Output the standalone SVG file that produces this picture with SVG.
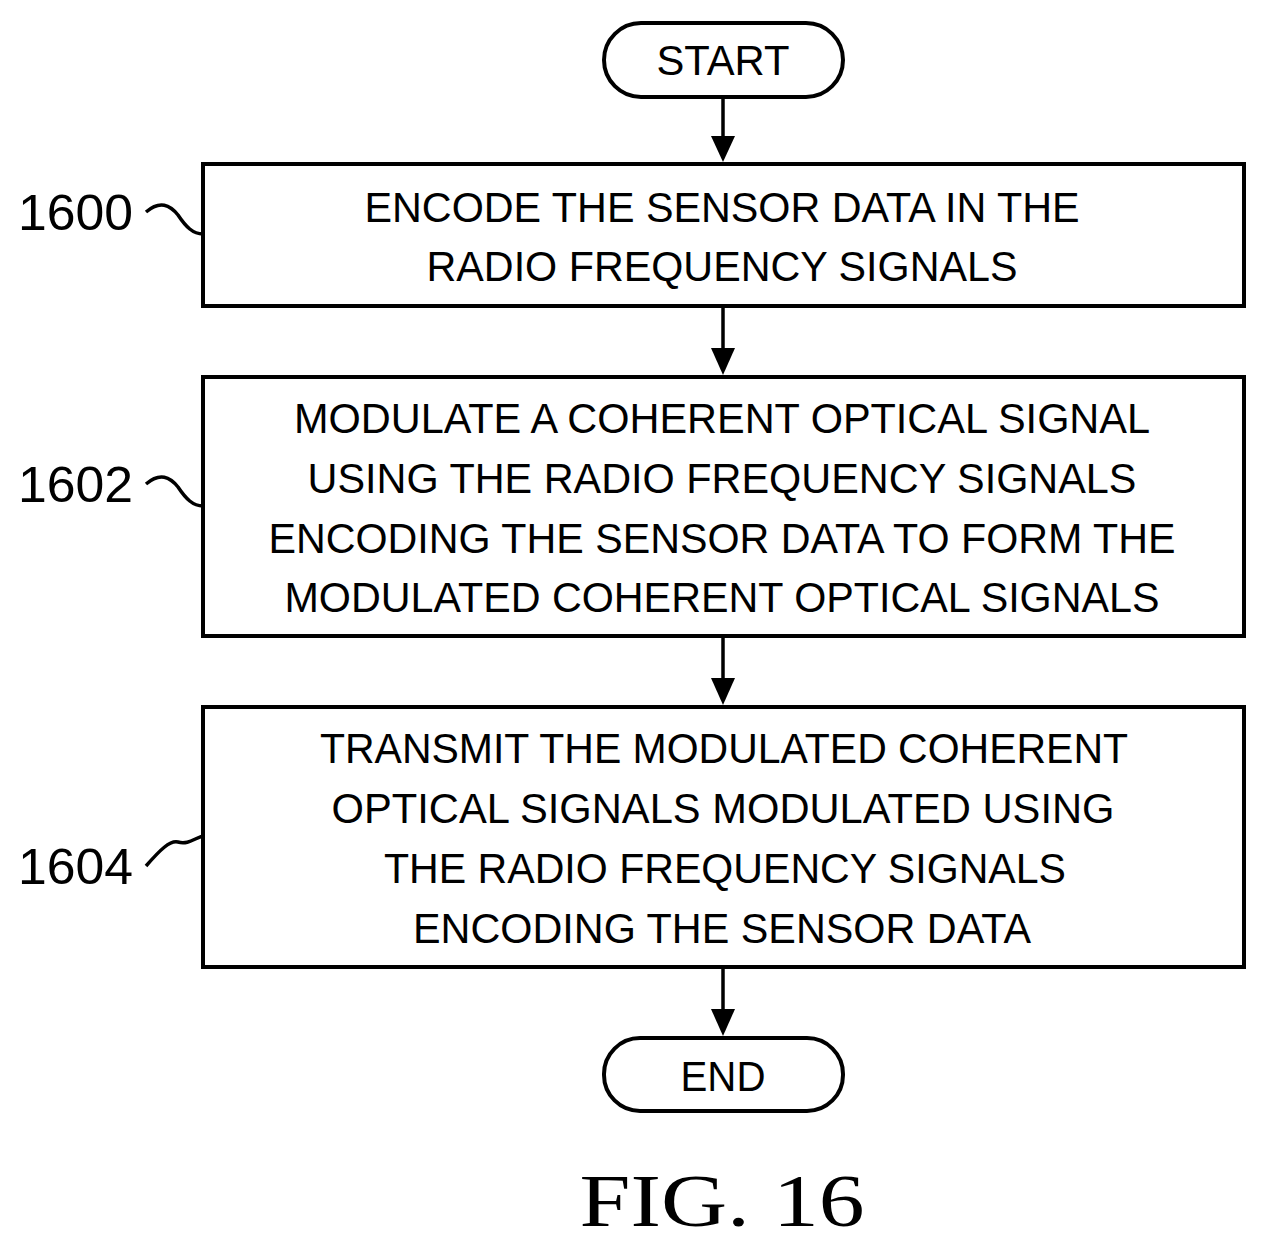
<svg xmlns="http://www.w3.org/2000/svg" width="1266" height="1248" viewBox="0 0 1266 1248">
<defs>
<style>
.b{fill:#fff;stroke:#000;stroke-width:4}
.t{font-family:"Liberation Sans",Arial,sans-serif;font-size:42px;text-anchor:middle;fill:#000}
.l{font-family:"Liberation Sans",Arial,sans-serif;font-size:50px;fill:#000}
.c{fill:none;stroke:#000;stroke-width:3.5}
</style>
<marker id="a" viewBox="0 0 10 10" refX="10" refY="5" markerWidth="6" markerHeight="6" markerUnits="userSpaceOnUse" orient="auto"><path d="M0,0L10,5L0,10z"/></marker>
</defs>
<rect width="1266" height="1248" fill="#fff"/>
<g id="connectors">
<line class="c" x1="723" y1="97" x2="723" y2="140"/><path d="M711,136L735,136L723,162z"/>
<line class="c" x1="723" y1="306" x2="723" y2="352"/><path d="M711,348L735,348L723,375z"/>
<line class="c" x1="723" y1="636" x2="723" y2="682"/><path d="M711,678L735,678L723,705z"/>
<line class="c" x1="723" y1="967" x2="723" y2="1013"/><path d="M711,1009L735,1009L723,1036z"/>
<path class="c" d="M146,212 C160,200 170,205 178,215 C186,227 193,234 203,234"/>
<path class="c" d="M146,484 C160,472 170,477 178,487 C186,499 193,506 203,506"/>
<path class="c" d="M146,866 C160,850 170,840 178,842 C188,845 195,838 203,836"/>
</g>
<g id="start"><rect class="b" x="604" y="23" width="239" height="74" rx="37"/><text class="t" x="723" y="75" textLength="133" lengthAdjust="spacingAndGlyphs">START</text></g>
<g id="n1600"><rect class="b" x="203" y="164" width="1041" height="142"/>
<text class="t" x="722" y="222" textLength="715" lengthAdjust="spacingAndGlyphs">ENCODE THE SENSOR DATA IN THE</text>
<text class="t" x="722" y="281" textLength="591" lengthAdjust="spacingAndGlyphs">RADIO FREQUENCY SIGNALS</text>
<text class="l" x="18" y="230" textLength="115" lengthAdjust="spacingAndGlyphs">1600</text></g>
<g id="n1602"><rect class="b" x="203" y="377" width="1041" height="259"/>
<text class="t" x="722" y="433" textLength="856" lengthAdjust="spacingAndGlyphs">MODULATE A COHERENT OPTICAL SIGNAL</text>
<text class="t" x="722" y="493" textLength="829" lengthAdjust="spacingAndGlyphs">USING THE RADIO FREQUENCY SIGNALS</text>
<text class="t" x="722" y="553" textLength="907" lengthAdjust="spacingAndGlyphs">ENCODING THE SENSOR DATA TO FORM THE</text>
<text class="t" x="722" y="612" textLength="875" lengthAdjust="spacingAndGlyphs">MODULATED COHERENT OPTICAL SIGNALS</text>
<text class="l" x="18" y="502" textLength="115" lengthAdjust="spacingAndGlyphs">1602</text></g>
<g id="n1604"><rect class="b" x="203" y="707" width="1041" height="260"/>
<text class="t" x="724" y="763" textLength="808" lengthAdjust="spacingAndGlyphs">TRANSMIT THE MODULATED COHERENT</text>
<text class="t" x="723" y="823" textLength="783" lengthAdjust="spacingAndGlyphs">OPTICAL SIGNALS MODULATED USING</text>
<text class="t" x="725" y="883" textLength="682" lengthAdjust="spacingAndGlyphs">THE RADIO FREQUENCY SIGNALS</text>
<text class="t" x="722" y="943" textLength="618" lengthAdjust="spacingAndGlyphs">ENCODING THE SENSOR DATA</text>
<text class="l" x="18" y="884" textLength="115" lengthAdjust="spacingAndGlyphs">1604</text></g>
<g id="end"><rect class="b" x="604" y="1038" width="239" height="73" rx="36"/><text class="t" x="723" y="1091" textLength="85" lengthAdjust="spacingAndGlyphs">END</text></g>
<text x="722" y="1226" font-family="Liberation Serif,serif" font-size="74" text-anchor="middle" textLength="285" lengthAdjust="spacingAndGlyphs">FIG. 16</text>
</svg>
